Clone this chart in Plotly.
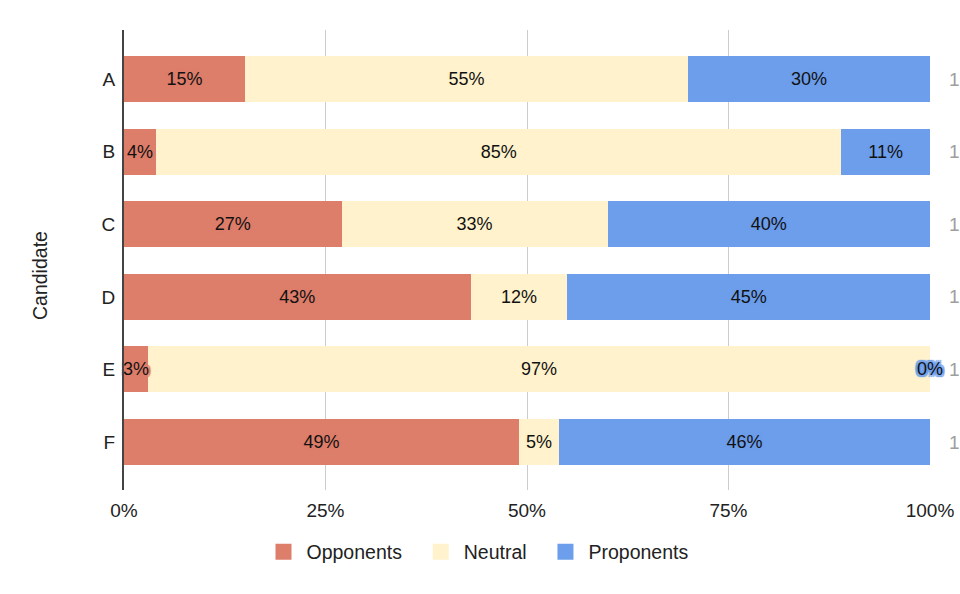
import plotly.graph_objects as go

candidates = ["A", "B", "C", "D", "E", "F"]
opponents = [15, 4, 27, 43, 3, 49]
neutral = [55, 85, 33, 12, 97, 5]
proponents = [30, 11, 40, 45, 0, 46]
series_names = ["Opponents", "Neutral", "Proponents"]
series_colors = ["#dd7e6b", "#fff2cc", "#6d9eeb"]
x_tickvals = [0, 25, 50, 75, 100]
x_ticktext = ["0%", "25%", "50%", "75%", "100%"]

FONT = "Liberation Sans, Arial, sans-serif"
series = [opponents, neutral, proponents]
Y_RANGE = [5.66, -0.675]
TEXT_SHIFT = 0.02  # small downward nudge of label baseline (category units)

fig = go.Figure()
for name, vals, col in zip(series_names, series, series_colors):
    fig.add_trace(go.Bar(
        y=candidates, x=vals, name=name, orientation="h",
        marker=dict(color=col, line=dict(width=0)),
        hoverinfo="skip", showlegend=False,
    ))

# legend entries with larger square swatches
NB = "\u00a0"
for k, (name, col) in enumerate(zip(series_names, series_colors)):
    pad = NB * 2 if k < len(series_names) - 1 else ""
    fig.add_trace(go.Scatter(
        x=[None], y=[None], mode="markers", name=name + pad,
        marker=dict(symbol="square", size=18, color=col),
        showlegend=True, hoverinfo="skip",
    ))

# data labels centered in each segment
cum = [0] * len(candidates)
for name, vals, col in zip(series_names, series, series_colors):
    mids = []
    for i, v in enumerate(vals):
        mids.append(cum[i] + v / 2)
        cum[i] += v
    halo = ", ".join(f"{dx}px {dy}px 1px {col}" for dx in (-2, 0, 2) for dy in (-2, 0, 2))
    fig.add_trace(go.Scatter(
        y=candidates, x=mids, mode="text", yaxis="y2",
        text=[f"{v}%" for v in vals],
        textposition="middle center",
        textfont=dict(family=FONT, size=18, color="#111111", shadow=halo),
        showlegend=False, cliponaxis=False, hoverinfo="skip",
    ))

totals = [sum(s[i] for s in series) / 100 for i in range(len(candidates))]
for c, t in zip(candidates, totals):
    fig.add_annotation(x=100, y=c, xref="x", yref="y", text=f"{t:g}",
                       showarrow=False, xanchor="center", xshift=24,
                       font=dict(family=FONT, size=19, color="#9e9e9e"))

fig.add_annotation(x=(40 - 124) / 806, y=(490 - 276) / 460, xref="paper", yref="paper",
                   text="Candidate", textangle=-90, showarrow=False,
                   xanchor="center", yanchor="middle",
                   font=dict(family=FONT, size=19.5, color="#222222"))

fig.update_layout(
    width=960, height=594,
    barmode="stack", bargap=0.366,
    margin=dict(l=124, r=30, t=30, b=104, autoexpand=False),
    paper_bgcolor="white", plot_bgcolor="white",
    font=dict(family=FONT, size=19, color="#222222"),
    showlegend=True,
    legend=dict(orientation="h", x=(477 - 124) / 806, xanchor="center",
                y=(490 - 552) / 460, yanchor="middle",
                font=dict(family=FONT, size=19.5, color="#222222"),
                traceorder="normal", itemwidth=36),
    xaxis=dict(range=[0, 100], tickvals=x_tickvals, ticktext=x_ticktext,
               showgrid=True, gridcolor="#cccccc", gridwidth=1,
               zeroline=False, showline=False, ticks="", automargin=False,
               ticklabelstandoff=7, tickfont=dict(family=FONT, size=19, color="#222222")),
    yaxis=dict(categoryorder="array", categoryarray=candidates,
               range=Y_RANGE, showgrid=False, zeroline=False,
               showline=True, linecolor="#444444", linewidth=2, ticks="", automargin=False,
               ticklabelstandoff=3, tickfont=dict(family=FONT, size=19, color="#222222")),
    yaxis2=dict(categoryorder="array", categoryarray=candidates, overlaying="y",
                range=[Y_RANGE[0] - TEXT_SHIFT, Y_RANGE[1] - TEXT_SHIFT],
                visible=False, showgrid=False, zeroline=False, automargin=False),
)

fig.write_html("out.html", config={"displayModeBar": False},
               post_script="document.body.style.margin='0';document.body.style.overflow='hidden';")
